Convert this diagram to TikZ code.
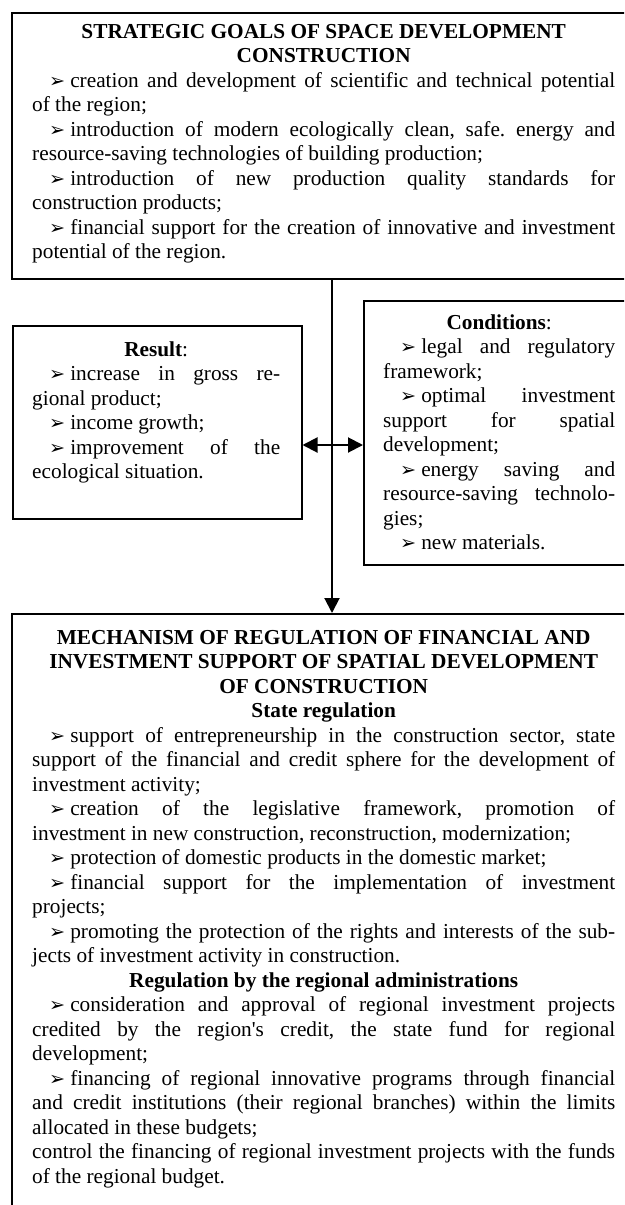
\documentclass[tikz,border=0pt]{standalone}
\usepackage{fontspec}
\usepackage{graphicx}
\setmainfont{Liberation Serif}
\newfontfamily\arrowfont{DejaVu Sans}
\usetikzlibrary{arrows.meta}
\newcommand\bul{\noindent\hspace*{17pt}\scalebox{0.9}{\arrowfont ➢}\hspace{5pt}}
\newcommand\ctr[1]{{\centering #1\par}}
\newcommand\parset{\frenchspacing\tolerance=10000 \pretolerance=-1 \hyphenpenalty=10000 \exhyphenpenalty=10000 \parindent=0pt \parskip=0pt}
\begin{document}
\begin{tikzpicture}[x=1pt,y=-1pt,
  boxnode/.style={draw, line width=1.5pt, inner sep=0pt, anchor=north west},
  txt/.style={anchor=north west, inner sep=0pt, align=justify,
    font=\fontsize{21.3}{24.5}\selectfont\parset},
  conn/.style={line width=2pt},
  tip/.tip={Triangle[length=15pt,width=15pt]}]
\useasboundingbox (0,0) rectangle (624,1205);
\clip (0,0) rectangle (624,1205);
% boxes
\node[boxnode, minimum width=623pt, minimum height=266pt] (topbox) at (11,12) {};
\node[boxnode, minimum width=289pt, minimum height=193pt] (result) at (12,325) {};
\node[boxnode, minimum width=272pt, minimum height=264pt] (cond) at (363,300) {};
\node[boxnode, minimum width=623pt, minimum height=640pt] (botbox) at (11,613) {};
\coordinate (vx) at (332,0);
\coordinate (ay) at (0,445);
% texts
\node[txt, text width=583pt] (toptxt) at (32,21) {%
\ctr{\strut\textbf{STRATEGIC GOALS OF SPACE DEVELOPMENT}\\\textbf{CONSTRUCTION}}
\bul creation and development of scientific and technical potential \linebreak of the region;\par
\bul introduction of modern ecologically clean, safe. energy and \linebreak resource-saving technologies of building production;\par
\bul introduction of new production quality standards for \linebreak construction products;\par
\bul financial support for the creation of innovative and investment \linebreak potential of the region.\par};
\node[txt, text width=248pt] (restxt) at (32,339) {%
\ctr{\strut\textbf{Result}:}
\bul increase in gross re-\linebreak gional product;\par
\bul income growth;\par
\bul improvement of the \linebreak ecological situation.\par};
\node[txt, text width=232pt] (condtxt) at (383,312) {%
\ctr{\strut\textbf{Conditions}:}
\bul legal and regulatory \linebreak framework;\par
\bul optimal investment \linebreak support for spatial \linebreak development;\par
\bul energy saving and \linebreak resource-saving technolo-\linebreak gies;\par
\bul new materials.\par};
\node[txt, text width=583pt] (bottxt) at (32,627) {%
\ctr{\strut\textbf{MECHANISM OF REGULATION OF FINANCIAL AND}\\\textbf{INVESTMENT SUPPORT OF SPATIAL DEVELOPMENT}\\\textbf{OF CONSTRUCTION}}
\ctr{\textbf{State regulation}}
\bul support of entrepreneurship in the construction sector, state \linebreak support of the financial and credit sphere for the development of \linebreak investment activity;\par
\bul creation of the legislative framework, promotion of \linebreak investment in new construction, reconstruction, modernization;\par
\bul protection of domestic products in the domestic market;\par
\bul financial support for the implementation of investment \linebreak projects;\par
\bul promoting the protection of the rights and interests of the sub-\linebreak jects of investment activity in construction.\par
\ctr{\textbf{Regulation by the regional administrations}}
\bul consideration and approval of regional investment projects \linebreak credited by the region\textquotesingle s credit, the state fund for regional \linebreak development;\par
\bul financing of regional innovative programs through financial \linebreak and credit institutions (their regional branches) within the limits \linebreak allocated in these budgets;\par
control the financing of regional investment projects with the funds \linebreak of the regional budget.\par};
% connectors
\draw[conn, -tip] (topbox.south -| vx) -- (botbox.north -| vx);
\draw[conn, tip-tip] (result.east |- ay) -- (cond.west |- ay);
\end{tikzpicture}
\end{document}
